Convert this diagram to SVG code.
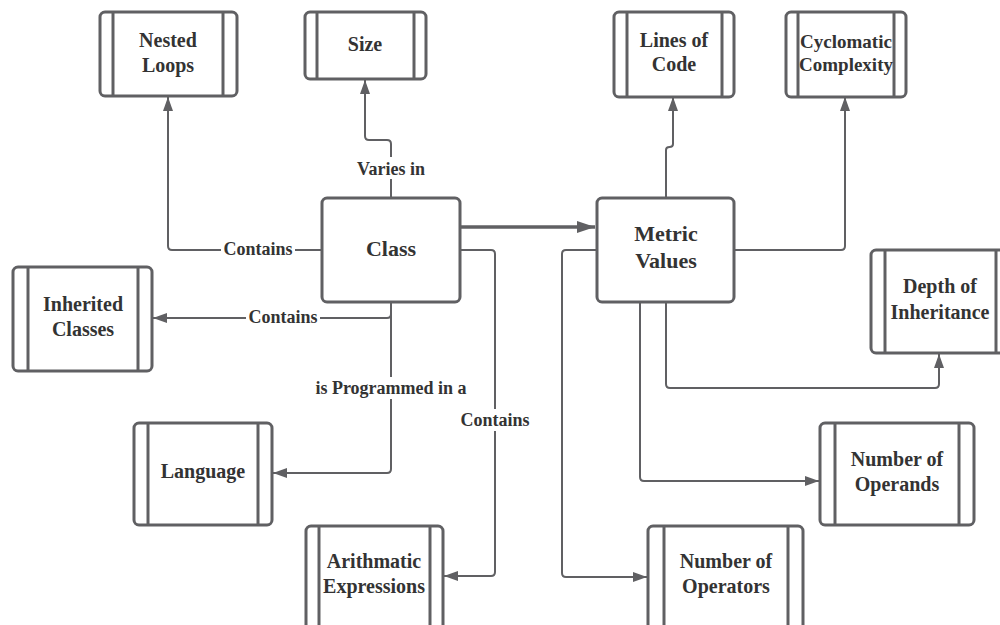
<svg xmlns="http://www.w3.org/2000/svg" width="1000" height="625" viewBox="0 0 1000 625">
<defs>
<marker id="ah" markerUnits="userSpaceOnUse" markerWidth="14" markerHeight="10" refX="14" refY="5" orient="auto"><path d="M0,0 L14,5 L0,10 z" fill="#606063"/></marker>
<marker id="ahb" markerUnits="userSpaceOnUse" markerWidth="18" markerHeight="12" refX="18" refY="6" orient="auto"><path d="M0,0 L18,6 L0,12 z" fill="#606063"/></marker>
<style>
.box{fill:#fff;stroke:#606063;stroke-width:3}
.bar{stroke:#606063;stroke-width:3}
text{font-weight:bold;fill:#333;text-anchor:middle}
.t{font-size:20px}
.tl{font-size:22px}
.ts{font-size:19px}
.lb{font-size:18px}
.c{fill:none;stroke:#606063;stroke-width:2;marker-end:url(#ah)}
.bg{fill:#fff}
</style>
</defs>
<rect width="1000" height="625" fill="#fff"/>
<g font-family="Liberation Serif, DejaVu Serif, serif">
<g id="connectors">
<path class="c" d="M322,250 H172 Q168,250 168,246 V97"/>
<path class="c" d="M391,198 V144 Q391,140 387,140 H369 Q365,140 365,136 V80"/>
<path class="c" d="M391,302 V314 Q391,318 387,318 H153"/>
<path class="c" d="M391,302 V469 Q391,473 387,473 H273"/>
<path class="c" d="M460,250 H491 Q495,250 495,254 V572 Q495,576 491,576 H444"/>
<path d="M460,227 H595" fill="none" stroke="#606063" stroke-width="3.5" marker-end="url(#ahb)"/>
<path class="c" d="M666,198 V150 Q666,147 669.5,147 Q673,147 673,144 V97"/>
<path class="c" d="M734,250 H841 Q845,250 845,246 V97"/>
<path class="c" d="M666,302 V384 Q666,388 670,388 H935 Q939,388 939,384 V354"/>
<path class="c" d="M640,302 V477 Q640,481 644,481 H819"/>
<path class="c" d="M597,250 H566 Q562,250 562,254 V573 Q562,577 566,577 H647"/>
<rect class="bg" x="221" y="239" width="74" height="22"/>
<text class="lb" x="258" y="255">Contains</text>
<rect class="bg" x="356" y="157" width="70" height="22"/>
<text class="lb" x="391" y="175">Varies in</text>
<rect class="bg" x="246" y="307" width="74" height="22"/>
<text class="lb" x="283" y="323">Contains</text>
<rect class="bg" x="311" y="377" width="160" height="22"/>
<text class="lb" x="391" y="394">is Programmed in a</text>
<rect class="bg" x="458" y="409" width="74" height="22"/>
<text class="lb" x="495" y="426">Contains</text>
</g>
<g id="class"><rect class="box" x="322" y="198" width="138" height="104" rx="5"/><text class="tl" x="391" y="256">Class</text></g>
<g id="metric-values"><rect class="box" x="597" y="198" width="137" height="104" rx="5"/><text class="tl" x="666" y="241">Metric</text><text class="tl" x="666" y="268">Values</text></g>
<g id="nested-loops"><rect class="box" x="100" y="12" width="137" height="84" rx="5"/><line class="bar" x1="113" y1="12" x2="113" y2="96"/><line class="bar" x1="223" y1="12" x2="223" y2="96"/><text class="t" x="168" y="47">Nested</text><text class="t" x="168" y="72">Loops</text></g>
<g id="size"><rect class="box" x="305" y="12" width="121" height="67" rx="5"/><line class="bar" x1="317" y1="12" x2="317" y2="79"/><line class="bar" x1="414" y1="12" x2="414" y2="79"/><text class="t" x="365" y="51">Size</text></g>
<g id="lines-of-code"><rect class="box" x="614" y="12" width="120" height="85" rx="5"/><line class="bar" x1="627" y1="12" x2="627" y2="97"/><line class="bar" x1="722" y1="12" x2="722" y2="97"/><text class="t" x="674" y="47">Lines of</text><text class="t" x="674" y="71">Code</text></g>
<g id="cyclomatic"><rect class="box" x="786" y="12" width="120" height="85" rx="5"/><line class="bar" x1="798" y1="12" x2="798" y2="97"/><line class="bar" x1="894" y1="12" x2="894" y2="97"/><text class="ts" x="846" y="48">Cyclomatic</text><text class="ts" x="846" y="71">Complexity</text></g>
<g id="inherited-classes"><rect class="box" x="13" y="267" width="139" height="104" rx="5"/><line class="bar" x1="28" y1="267" x2="28" y2="371"/><line class="bar" x1="138" y1="267" x2="138" y2="371"/><text class="t" x="83" y="311">Inherited</text><text class="t" x="83" y="336">Classes</text></g>
<g id="depth-of-inheritance"><rect class="box" x="871" y="250" width="134" height="103" rx="5"/><line class="bar" x1="885" y1="250" x2="885" y2="353"/><line class="bar" x1="996" y1="250" x2="996" y2="353"/><text class="t" x="940" y="293">Depth of</text><text class="t" x="940" y="319">Inheritance</text></g>
<g id="language"><rect class="box" x="134" y="423" width="138" height="102" rx="5"/><line class="bar" x1="148" y1="423" x2="148" y2="525"/><line class="bar" x1="258" y1="423" x2="258" y2="525"/><text class="t" x="203" y="478">Language</text></g>
<g id="number-of-operands"><rect class="box" x="820" y="423" width="154" height="102" rx="5"/><line class="bar" x1="835" y1="423" x2="835" y2="525"/><line class="bar" x1="959" y1="423" x2="959" y2="525"/><text class="t" x="897" y="466">Number of</text><text class="t" x="897" y="491">Operands</text></g>
<g id="arithmatic-expressions"><rect class="box" x="306" y="526" width="137" height="104" rx="5"/><line class="bar" x1="319" y1="526" x2="319" y2="630"/><line class="bar" x1="430" y1="526" x2="430" y2="630"/><text class="t" x="374" y="568">Arithmatic</text><text class="t" x="374" y="593">Expressions</text></g>
<g id="number-of-operators"><rect class="box" x="648" y="526" width="155" height="104" rx="5"/><line class="bar" x1="664" y1="526" x2="664" y2="630"/><line class="bar" x1="788" y1="526" x2="788" y2="630"/><text class="t" x="726" y="568">Number of</text><text class="t" x="726" y="593">Operators</text></g>
</g>
</svg>
